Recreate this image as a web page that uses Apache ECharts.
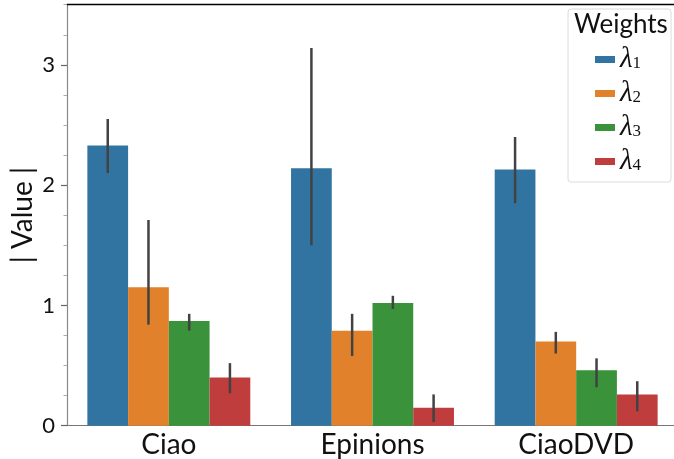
<!DOCTYPE html>
<html>
<head>
<meta charset="utf-8">
<script src="https://cdn.jsdelivr.net/npm/echarts@6/dist/echarts.min.js"></script>
<style>html,body{margin:0;padding:0;background:#fff}#c{width:674px;height:459px}</style>
</head>
<body>
<div id="c"></div>
<script>
var categories = ['Ciao', 'Epinions', 'CiaoDVD'];
var weights = ['λ1', 'λ2', 'λ3', 'λ4'];
var lambda1 = [2.33, 2.14, 2.13];
var lambda2 = [1.15, 0.79, 0.70];
var lambda3 = [0.87, 1.02, 0.46];
var lambda4 = [0.40, 0.15, 0.26];
var lambda1Low = [2.10, 1.50, 1.85], lambda1High = [2.55, 3.14, 2.40];
var lambda2Low = [0.84, 0.58, 0.60], lambda2High = [1.71, 0.93, 0.78];
var lambda3Low = [0.79, 0.97, 0.32], lambda3High = [0.93, 1.08, 0.56];
var lambda4Low = [0.27, 0.03, 0.12], lambda4High = [0.52, 0.26, 0.37];
var yTicks = [0, 1, 2, 3];

var values = [lambda1, lambda2, lambda3, lambda4];
var lows = [lambda1Low, lambda2Low, lambda3Low, lambda4Low];
var highs = [lambda1High, lambda2High, lambda3High, lambda4High];
var colors = ['#3274A1', '#E1812C', '#3A923A', '#C03D3E'];
var minorTicks = [];
for (var t = 0; t < 3.01; t += 1) { minorTicks.push(t + 0.25, t + 0.5, t + 0.75); }

var series = [];
weights.forEach(function (w, i) {
  series.push({
    name: w, type: 'bar', data: values[i], barGap: '0%', barCategoryGap: '20%',
    itemStyle: { color: colors[i] }, xAxisIndex: 0, yAxisIndex: 0
  });
});
weights.forEach(function (w, i) {
  series.push({
    name: 'err' + i, type: 'custom', xAxisIndex: 0, yAxisIndex: 0, z: 5,
    encode: { x: 0, y: [1, 2] },
    data: categories.map(function (c, k) { return [k, lows[i][k], highs[i][k]]; }),
    renderItem: function (params, api) {
      var p1 = api.coord([api.value(0), api.value(1)]);
      var p2 = api.coord([api.value(0), api.value(2)]);
      var band = api.size([1, 0])[0];
      var bw = band * 0.8 / 4;
      var x = p1[0] + (i - 1.5) * bw;
      return { type: 'line', shape: { x1: x, y1: p1[1], x2: x, y2: p2[1] },
        style: { stroke: '#424242', lineWidth: 2.5 } };
    }
  });
});

var chart = echarts.init(document.getElementById('c'), null, { renderer: 'canvas' });
chart.setOption({
  animation: false,
  grid: { left: 67, right: -4, top: 4.7, bottom: 33.3, outerBoundsMode: 'none', containLabel: false },
  xAxis: [{
    type: 'category', data: categories, position: 'bottom',
    axisLine: { onZero: false, lineStyle: { color: '#777', width: 1.2 } },
    axisTick: { alignWithLabel: true, length: 4, lineStyle: { color: '#000', width: 1.2 } },
    axisLabel: { fontFamily: 'Lato', fontSize: 28, color: '#111', margin: 5 }
  }, {
    type: 'category', data: categories, position: 'top',
    axisLine: { show: true, onZero: false, lineStyle: { color: '#000', width: 1.3 } },
    axisTick: { show: false }, axisLabel: { show: false }
  }],
  yAxis: [{
    type: 'value', min: 0, max: 3.5, interval: 1, position: 'left',
    name: '| Value |', nameLocation: 'middle', nameGap: 30, nameMoveOverlap: false,
    nameTextStyle: { fontFamily: 'Lato', fontSize: 28, color: '#111' },
    axisLine: { show: true, onZero: false, lineStyle: { color: '#888', width: 1.2 } },
    axisTick: { show: true, length: 6, customValues: yTicks, lineStyle: { color: '#666', width: 1.2 } },
    axisLabel: { customValues: yTicks, fontFamily: 'Lato', fontSize: 22, color: '#111', margin: 12 },
    splitLine: { show: false }
  }, {
    type: 'value', min: 0, max: 3.5, interval: 0.25, position: 'left',
    axisLine: { show: false },
    axisTick: { show: true, length: 3.5, customValues: minorTicks, lineStyle: { color: '#aaa', width: 1 } },
    axisLabel: { show: false }, splitLine: { show: false }
  }],
  legend: {
    data: weights, orient: 'vertical', left: 568, top: 9,
    padding: [36, 30, 6, 27], itemGap: 5, itemWidth: 20, itemHeight: 7,
    backgroundColor: 'rgba(255,255,255,0.85)', borderColor: '#dcdcdc', borderWidth: 1, borderRadius: 3,
    icon: 'rect',
    formatter: function (name) { return '{l|λ}{s|' + name.slice(1) + '}'; },
    textStyle: {
      color: '#111',
      rich: {
        l: { fontFamily: 'Liberation Serif', fontStyle: 'italic', fontSize: 29, lineHeight: 26 },
        s: { fontFamily: 'Liberation Serif', fontSize: 17, lineHeight: 16, verticalAlign: 'bottom' }
      }
    }
  },
  graphic: [{
    type: 'text', left: 574, top: 12, z: 100,
    style: { text: 'Weights', font: '26px Lato', fill: '#111' }
  }],
  series: series
});
</script>
</body>
</html>
